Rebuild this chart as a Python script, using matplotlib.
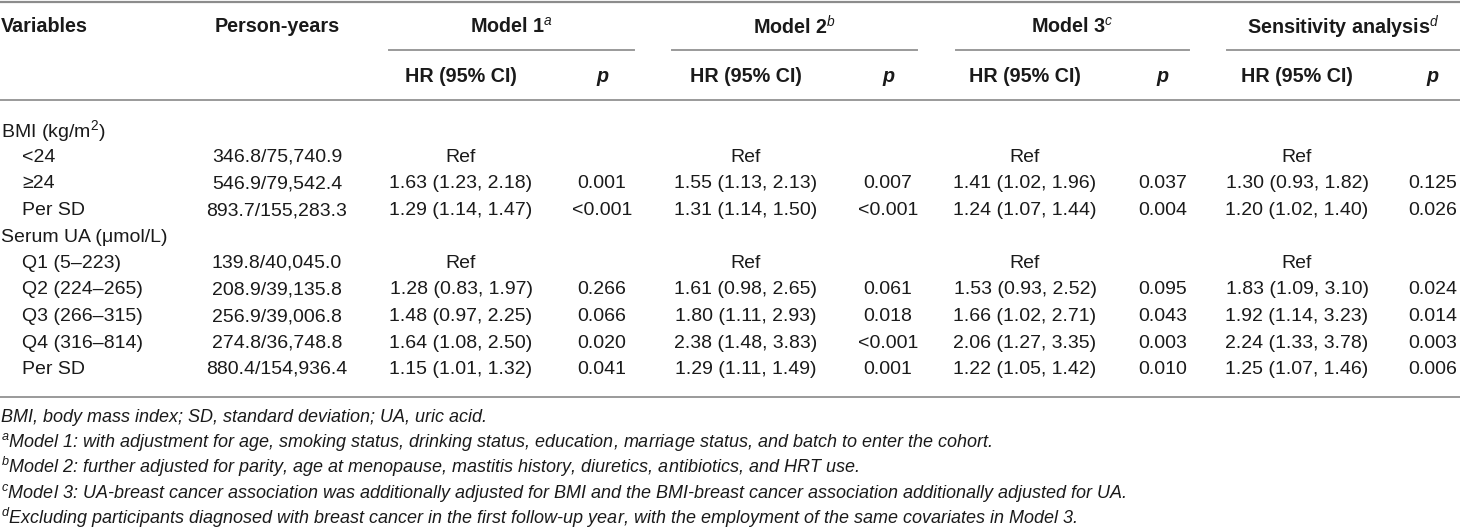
import matplotlib
matplotlib.use("Agg")
import matplotlib.pyplot as plt
from matplotlib.lines import Line2D

plt.rcParams['font.family'] = ['Liberation Sans', 'DejaVu Sans']
plt.rcParams['mathtext.fontset'] = 'custom'
plt.rcParams['mathtext.rm'] = 'Liberation Sans'
plt.rcParams['mathtext.it'] = 'Liberation Sans:italic'
plt.rcParams['mathtext.bf'] = 'Liberation Sans:bold'

# ---------------- data ----------------
variables = ["BMI (kg/m$^{\\mathrm{2}}$)", "<24", "\u226524", "Per SD",
             "Serum UA (\u03bcmol/L)", "Q1 (5\u2013223)", "Q2 (224\u2013265)",
             "Q3 (266\u2013315)", "Q4 (316\u2013814)", "Per SD"]
indented = [False, True, True, True, False, True, True, True, True, True]
person_years = ["", "346.8/75,740.9", "546.9/79,542.4", "893.7/155,283.3", "",
                "139.8/40,045.0", "208.9/39,135.8", "256.9/39,006.8",
                "274.8/36,748.8", "880.4/154,936.4"]
m1_hr = ["", "Ref", "1.63 (1.23, 2.18)", "1.29 (1.14, 1.47)", "", "Ref",
         "1.28 (0.83, 1.97)", "1.48 (0.97, 2.25)", "1.64 (1.08, 2.50)", "1.15 (1.01, 1.32)"]
m1_p = ["", "", "0.001", "<0.001", "", "", "0.266", "0.066", "0.020", "0.041"]
m2_hr = ["", "Ref", "1.55 (1.13, 2.13)", "1.31 (1.14, 1.50)", "", "Ref",
         "1.61 (0.98, 2.65)", "1.80 (1.11, 2.93)", "2.38 (1.48, 3.83)", "1.29 (1.11, 1.49)"]
m2_p = ["", "", "0.007", "<0.001", "", "", "0.061", "0.018", "<0.001", "0.001"]
m3_hr = ["", "Ref", "1.41 (1.02, 1.96)", "1.24 (1.07, 1.44)", "", "Ref",
         "1.53 (0.93, 2.52)", "1.66 (1.02, 2.71)", "2.06 (1.27, 3.35)", "1.22 (1.05, 1.42)"]
m3_p = ["", "", "0.037", "0.004", "", "", "0.095", "0.043", "0.003", "0.010"]
s_hr = ["", "Ref", "1.30 (0.93, 1.82)", "1.20 (1.02, 1.40)", "", "Ref",
        "1.83 (1.09, 3.10)", "1.92 (1.14, 3.23)", "2.24 (1.33, 3.78)", "1.25 (1.07, 1.46)"]
s_p = ["", "", "0.125", "0.026", "", "", "0.024", "0.014", "0.003", "0.006"]

model_names = ["Model 1", "Model 2", "Model 3", "Sensitivity analysis"]
model_marks = ["a", "b", "c", "d"]
footnotes = [
    ("", "BMI, body mass index; SD, standard deviation; UA, uric acid."),
    ("a", "Model 1: with adjustment for age, smoking status, drinking status, education, marriage status, and batch to enter the cohort."),
    ("b", "Model 2: further adjusted for parity, age at menopause, mastitis history, diuretics, antibiotics, and HRT use."),
    ("c", "Model 3: UA-breast cancer association was additionally adjusted for BMI and the BMI-breast cancer association additionally adjusted for UA."),
    ("d", "Excluding participants diagnosed with breast cancer in the first follow-up year, with the employment of the same covariates in Model 3."),
]

# ---------------- layout (pixels) ----------------
W, H = 1460, 532
fig = plt.figure(figsize=(W / 100, H / 100), dpi=100)
fig.patch.set_facecolor('white')

def fx(x):
    return x / W

def fy(y):
    return 1 - y / H

FS_HEAD = 14.2
FS_BODY = 14.0
FS_NOTE = 13.0
TXT = '#1a1a1a'
LINE = '#9a9a9a'

def hline(x0, x1, y, color=LINE, lw=1.4):
    fig.add_artist(Line2D([fx(x0), fx(x1)], [fy(y), fy(y)], color=color, lw=lw,
                          transform=fig.transFigure))

def txt(x, y, s, ha='left', fs=FS_BODY, **kw):
    kw.setdefault('color', TXT)
    fig.text(fx(x), fy(y), s, ha=ha, va='center', fontsize=fs, **kw)

# column positions
x_var = 1
x_ind = 22
x_py = 277
hr_x = [461, 746, 1025, 1297]
p_x = [602, 888, 1163, 1433]
line_spans = [(389, 634), (672, 917), (956, 1189), (1227, 1460)]
head_x = [(a + b) / 2 for a, b in line_spans]

# rules
hline(0, W, 1.5, color='#8c8c8c', lw=1.6)
for a, b in line_spans:
    hline(a, b, 50)
hline(0, W, 100)
hline(0, W, 397)

# header
y_h1, y_h2 = 27, 77
txt(x_var, y_h1, "Variables", fs=FS_HEAD, fontweight='bold')
txt(x_py, y_h1, "Person-years", ha='center', fs=FS_HEAD, fontweight='bold')
for name, mk, hx in zip(model_names, model_marks, head_x):
    txt(hx, y_h1, name + "$^{\\mathit{" + mk + "}}$", ha='center', fs=FS_HEAD,
        fontweight='bold')
for hx, px in zip(hr_x, p_x):
    txt(hx, y_h2, "HR (95% CI)", ha='center', fs=FS_HEAD, fontweight='bold')
    txt(px, y_h2, "p", ha='center', fs=FS_HEAD, fontweight='bold', fontstyle='italic')

# body rows
row_y0, row_dy = 131, 26.5
hr_cols = [m1_hr, m2_hr, m3_hr, s_hr]
p_cols = [m1_p, m2_p, m3_p, s_p]
for i, v in enumerate(variables):
    y = row_y0 + i * row_dy
    txt(x_ind if indented[i] else x_var, y, v)
    if person_years[i]:
        txt(x_py, y, person_years[i], ha='center')
    for col, hx in zip(hr_cols, hr_x):
        if col[i]:
            txt(hx, y, col[i], ha='center')
    for col, px in zip(p_cols, p_x):
        if col[i]:
            txt(px, y, col[i], ha='center')

# footnotes
fn_y0, fn_dy = 417, 25.2
for j, (mk, s) in enumerate(footnotes):
    y = fn_y0 + j * fn_dy
    label = ("$^{\\mathit{" + mk + "}}$" if mk else "") + s
    txt(x_var, y, label, fs=FS_NOTE, fontstyle='italic')

fig.savefig("out.png", dpi=100, facecolor='white')
